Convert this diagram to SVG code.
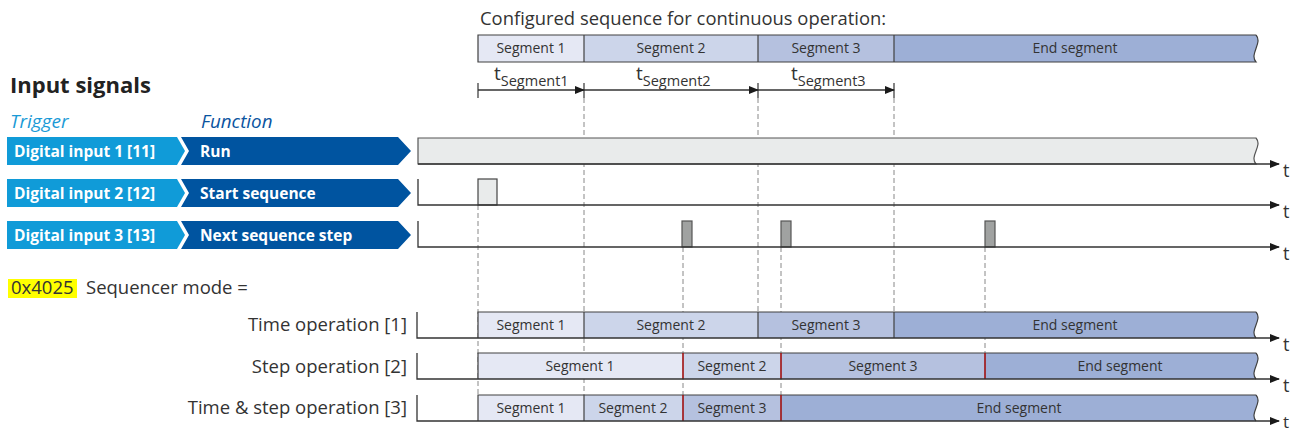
<svg xmlns="http://www.w3.org/2000/svg" width="1299" height="433" viewBox="0 0 1299 433">
<defs>
<marker id="ah" markerWidth="10" markerHeight="8" refX="9" refY="4" orient="auto" markerUnits="userSpaceOnUse">
<path d="M0,0 L10,4 L0,8 Z" fill="#1a1a1a"/>
</marker>
<style>
text{font-family:"Open Sans","Liberation Sans",sans-serif;fill:#333}
.seg{font-size:14px;text-anchor:middle}
.lbl{font-size:18.5px}
.tl{font-size:18px}
.ws{font-size:15.5px;font-weight:bold;fill:#fff}
.axis{stroke:#333;stroke-width:1.3;fill:none}
.dash{stroke:#888;stroke-width:1;stroke-dasharray:5 3;fill:none}
.s1{fill:#e5e8f4}.s2{fill:#ccd5ea}.s3{fill:#b5c1df}.s4{fill:#9dafd6}
.bd{stroke:#404040;stroke-width:1.2}
.red{stroke:#a01010;stroke-width:1.6}
.tick{stroke:#333;stroke-width:1.2}
</style>
</defs>
<rect width="1299" height="433" fill="#fff"/>

<g id="dashes">
<line class="dash" x1="478" y1="205" x2="478" y2="395"/>
<line class="dash" x1="584" y1="98" x2="584" y2="395"/>
<line class="dash" x1="683" y1="247" x2="683" y2="395"/>
<line class="dash" x1="758" y1="98" x2="758" y2="312"/>
<line class="dash" x1="781" y1="247" x2="781" y2="395"/>
<line class="dash" x1="894" y1="98" x2="894" y2="312"/>
<line class="dash" x1="985" y1="247" x2="985" y2="353"/>
</g>

<g id="title">
<text x="480" y="25" style="font-size:18.4px">Configured sequence for continuous operation:</text>
</g>

<g id="config-sequence">
<rect class="s1" x="478" y="35" width="106" height="27"/>
<rect class="s2" x="584" y="35" width="174" height="27"/>
<rect class="s3" x="758" y="35" width="136" height="27"/>
<path class="s4" d="M894,35 H1256 C1263,43 1249,54 1256,62 H894 Z"/>
<path class="bd" fill="none" d="M1256,35 H478 V62 H1256 C1249,54 1263,43 1256,35"/>
<line class="bd" x1="584" y1="35" x2="584" y2="62"/>
<line class="bd" x1="758" y1="35" x2="758" y2="62"/>
<line class="bd" x1="894" y1="35" x2="894" y2="62"/>
<text class="seg" x="531" y="53">Segment 1</text>
<text class="seg" x="671" y="53">Segment 2</text>
<text class="seg" x="826" y="53">Segment 3</text>
<text class="seg" x="1075" y="53">End segment</text>
</g>

<g id="durations">
<line class="tick" x1="478" y1="83" x2="478" y2="98"/>
<line class="tick" x1="584" y1="83" x2="584" y2="98"/>
<line class="tick" x1="758" y1="83" x2="758" y2="98"/>
<line class="tick" x1="894" y1="83" x2="894" y2="98"/>
<line class="axis" x1="478" y1="90" x2="584" y2="90" marker-end="url(#ah)"/>
<line class="axis" x1="584" y1="90" x2="758" y2="90" marker-end="url(#ah)"/>
<line class="axis" x1="758" y1="90" x2="894" y2="90" marker-end="url(#ah)"/>
<text x="494" y="80" style="font-size:19px">t<tspan dy="6" style="font-size:14.5px">Segment1</tspan></text>
<text x="636" y="80" style="font-size:19px">t<tspan dy="6" style="font-size:14.5px">Segment2</tspan></text>
<text x="791" y="80" style="font-size:19px">t<tspan dy="6" style="font-size:14.5px">Segment3</tspan></text>
</g>

<g id="headings">
<text x="10" y="93" style="font-size:22px;font-weight:bold;fill:#222">Input signals</text>
<text x="10" y="128" style="font-size:19px;font-style:italic;fill:#1a9ad6">Trigger</text>
<text x="201" y="128" style="font-size:18.8px;font-style:italic;fill:#0a54a0">Function</text>
</g>

<g id="input1">
<path d="M7,137 H177 L185,151 L177,165 H7 Z" fill="#109bd8"/>
<path d="M181,137 H398 L411,151 L398,165 H181 L189,151 Z" fill="#0054a0"/>
<text class="ws" x="14" y="157">Digital input 1 [11]</text>
<text class="ws" x="200" y="157">Run</text>
</g>
<g id="input2">
<path d="M7,179 H177 L185,193 L177,207 H7 Z" fill="#109bd8"/>
<path d="M181,179 H398 L411,193 L398,207 H181 L189,193 Z" fill="#0054a0"/>
<text class="ws" x="14" y="199">Digital input 2 [12]</text>
<text class="ws" x="200" y="199">Start sequence</text>
</g>
<g id="input3">
<path d="M7,221 H177 L185,235 L177,249 H7 Z" fill="#109bd8"/>
<path d="M181,221 H398 L411,235 L398,249 H181 L189,235 Z" fill="#0054a0"/>
<text class="ws" x="14" y="241">Digital input 3 [13]</text>
<text class="ws" x="200" y="241">Next sequence step</text>
</g>

<g id="signal-run">
<path d="M418,138 H1256 C1263,146 1249,156 1256,164 H418 Z" fill="#e9ebeb" stroke="#555" stroke-width="1.2"/>
<line class="axis" x1="418" y1="164" x2="1279" y2="164" marker-end="url(#ah)"/>
<text class="tl" x="1283" y="177">t</text>
</g>
<g id="signal-start">
<rect x="478" y="179" width="19" height="26" fill="#e9ebeb" stroke="#444" stroke-width="1.2"/>
<polyline class="axis" points="418,179 418,205 1279,205" marker-end="url(#ah)"/>
<text class="tl" x="1283" y="218">t</text>
</g>
<g id="signal-next">
<rect x="682" y="221" width="10" height="26" fill="#a0a2a1" stroke="#555" stroke-width="1.2"/>
<rect x="781" y="221" width="10" height="26" fill="#a0a2a1" stroke="#555" stroke-width="1.2"/>
<rect x="985" y="221" width="10" height="26" fill="#a0a2a1" stroke="#555" stroke-width="1.2"/>
<polyline class="axis" points="418,221 418,247 1279,247" marker-end="url(#ah)"/>
<text class="tl" x="1283" y="260">t</text>
</g>

<g id="mode-label">
<rect x="8" y="279" width="69" height="19" fill="#ffff00"/>
<text class="lbl" x="11" y="294">0x4025</text>
<text class="lbl" x="86" y="294">Sequencer mode =</text>
</g>

<g id="mode-time">
<text class="lbl" x="407" y="331" text-anchor="end">Time operation [1]</text>
<rect class="s1" x="478" y="312" width="106" height="26"/>
<rect class="s2" x="584" y="312" width="174" height="26"/>
<rect class="s3" x="758" y="312" width="136" height="26"/>
<path class="s4" d="M894,312 H1256 C1263,320 1249,330 1256,338 H894 Z"/>
<path class="bd" fill="none" d="M1256,312 H478 V338 M1256,338 C1249,330 1263,320 1256,312"/>
<line class="bd" x1="584" y1="312" x2="584" y2="338"/>
<line class="bd" x1="758" y1="312" x2="758" y2="338"/>
<line class="bd" x1="894" y1="312" x2="894" y2="338"/>
<polyline class="axis" points="417,312 417,338 1279,338" marker-end="url(#ah)"/>
<text class="seg" x="531" y="330">Segment 1</text>
<text class="seg" x="671" y="330">Segment 2</text>
<text class="seg" x="826" y="330">Segment 3</text>
<text class="seg" x="1075" y="330">End segment</text>
<text class="tl" x="1283" y="351">t</text>
</g>

<g id="mode-step">
<text class="lbl" x="407" y="373" text-anchor="end">Step operation [2]</text>
<rect class="s1" x="478" y="353" width="205" height="26"/>
<rect class="s2" x="683" y="353" width="98" height="26"/>
<rect class="s3" x="781" y="353" width="204" height="26"/>
<path class="s4" d="M985,353 H1256 C1263,361 1249,371 1256,379 H985 Z"/>
<path class="bd" fill="none" d="M1256,353 H478 V379 M1256,379 C1249,371 1263,361 1256,353"/>
<line class="red" x1="683" y1="353" x2="683" y2="379"/>
<line class="red" x1="781" y1="353" x2="781" y2="379"/>
<line class="red" x1="985" y1="353" x2="985" y2="379"/>
<polyline class="axis" points="417,353 417,379 1279,379" marker-end="url(#ah)"/>
<text class="seg" x="580" y="371">Segment 1</text>
<text class="seg" x="732" y="371">Segment 2</text>
<text class="seg" x="883" y="371">Segment 3</text>
<text class="seg" x="1120" y="371">End segment</text>
<text class="tl" x="1283" y="392">t</text>
</g>

<g id="mode-timestep">
<text class="lbl" x="407" y="414" text-anchor="end">Time &amp; step operation [3]</text>
<rect class="s1" x="478" y="395" width="106" height="26"/>
<rect class="s2" x="584" y="395" width="99" height="26"/>
<rect class="s3" x="683" y="395" width="98" height="26"/>
<path class="s4" d="M781,395 H1256 C1263,403 1249,413 1256,421 H781 Z"/>
<path class="bd" fill="none" d="M1256,395 H478 V421 M1256,421 C1249,413 1263,403 1256,395"/>
<line class="bd" x1="584" y1="395" x2="584" y2="421"/>
<line class="red" x1="683" y1="395" x2="683" y2="421"/>
<line class="red" x1="781" y1="395" x2="781" y2="421"/>
<polyline class="axis" points="417,395 417,421 1279,421" marker-end="url(#ah)"/>
<text class="seg" x="531" y="413">Segment 1</text>
<text class="seg" x="633" y="413">Segment 2</text>
<text class="seg" x="732" y="413">Segment 3</text>
<text class="seg" x="1019" y="413">End segment</text>
<text x="1283" y="428" style="font-size:17px">t</text>
</g>
</svg>
